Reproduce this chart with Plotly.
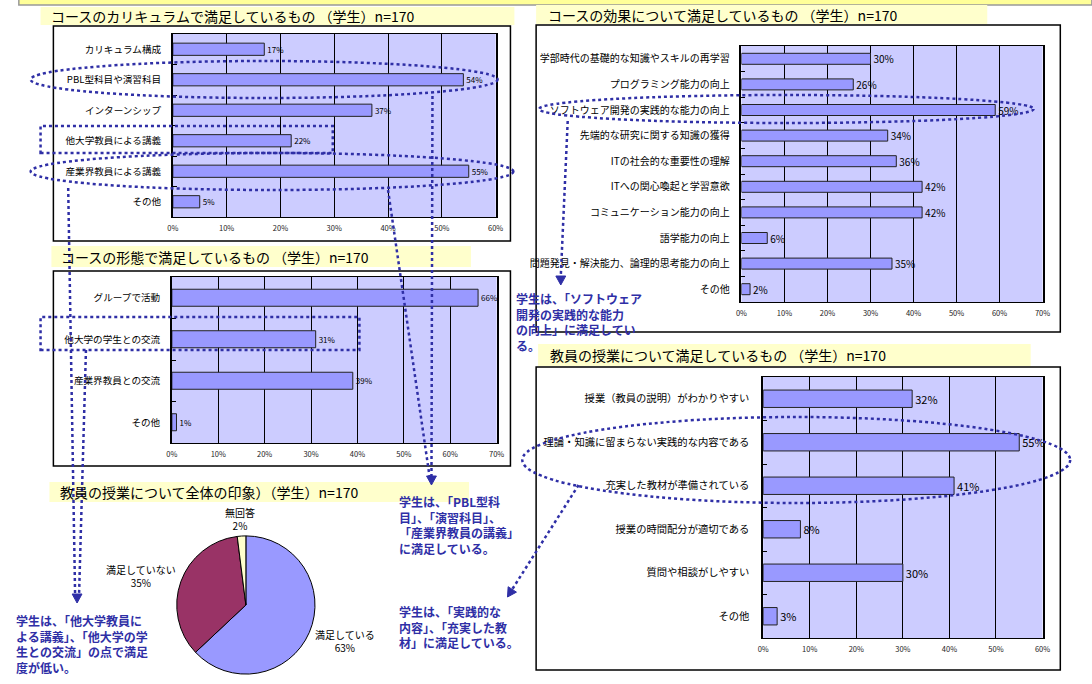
import math
import plotly.graph_objects as go

W, H = 1092, 684


def X(px):
    return px / W


def Y(py):
    return 1 - py / H


# ---------------- data ----------------
cur_title = "コースのカリキュラムで満足しているもの （学生）n=170"
cur_cats = ["カリキュラム構成", "PBL型科目や演習科目", "インターンシップ",
            "他大学教員による講義", "産業界教員による講義", "その他"]
cur_vals = [17, 54, 37, 22, 55, 5]

eff_title = "コースの効果について満足しているもの （学生）n=170"
eff_cats = ["学部時代の基礎的な知識やスキルの再学習", "プログラミング能力の向上",
            "ソフトウェア開発の実践的な能力の向上", "先端的な研究に関する知識の獲得",
            "ITの社会的な重要性の理解", "ITへの関心喚起と学習意欲",
            "コミュニケーション能力の向上", "語学能力の向上",
            "問題発見・解決能力、論理的思考能力の向上", "その他"]
eff_vals = [30, 26, 59, 34, 36, 42, 42, 6, 35, 2]

form_title = "コースの形態で満足しているもの （学生）n=170"
form_cats = ["グループで活動", "他大学の学生との交流", "産業界教員との交流", "その他"]
form_vals = [66, 31, 39, 1]

teach_title = "教員の授業について満足しているもの （学生）n=170"
teach_cats = ["授業（教員の説明）がわかりやすい", "理論・知識に留まらない実践的な内容である",
              "充実した教材が準備されている", "授業の時間配分が適切である",
              "質問や相談がしやすい", "その他"]
teach_vals = [32, 55, 41, 8, 30, 3]

pie_title = "教員の授業について全体の印象）（学生）n=170"
pie_labels = ["満足している", "満足していない", "無回答"]
pie_vals = [63, 35, 2]
pie_colors = ["#9999FF", "#993366", "#FFFFCC"]

note_software = ["学生は、「ソフトウェア", "開発の実践的な能力", "の向上」に満足してい", "る。"]
note_pbl = ["学生は、「PBL型科", "目」、「演習科目」、", "「産業界教員の講義」", "に満足している。"]
note_other = ["学生は、「他大学教員に", "よる講義」、「他大学の学", "生との交流」の点で満足", "度が低い。"]
note_practice = ["学生は、「実践的な", "内容」、「充実した教", "材」に満足している。"]

FONT = "Noto Sans CJK JP"
BLUE = "#2F2FA6"
BAR = "#9999FF"
PLOTBG = "#CCCCFF"

fig = go.Figure()
shapes = []
annotations = []


def add_bar(cats, vals, n, px_x, px_y, xmax, tickfs, valfs, catfs, width, standoff):
    s = "" if n == 1 else str(n)
    fig.add_trace(go.Bar(
        y=cats, x=vals, orientation="h", xaxis="x" + s, yaxis="y" + s,
        marker=dict(color=BAR, line=dict(color="#222222", width=1)),
        text=[f"{v}%" for v in vals], textposition="outside", cliponaxis=False,
        constraintext="none", textfont=dict(size=valfs, color="black", family=FONT),
        width=width, showlegend=False, hoverinfo="skip"))
    fig.layout["xaxis" + s] = dict(
        domain=[X(px_x[0]), X(px_x[1])], range=[0, xmax], dtick=10, ticksuffix="%",
        anchor="y" + s, showgrid=True, gridcolor="black", gridwidth=1,
        tickfont=dict(size=tickfs, color="#222222"), showline=True, linecolor="black",
        linewidth=1, mirror=True, zeroline=False, ticks="", ticklabelstandoff=4,
        fixedrange=True)
    fig.layout["yaxis" + s] = dict(
        domain=[Y(px_y[1]), Y(px_y[0])], autorange="reversed", anchor="x" + s,
        tickfont=dict(size=catfs, color="black"), showline=True, linecolor="black",
        linewidth=1.5, mirror=True, ticks="inside", tickson="boundaries", ticklen=4,
        tickcolor="black", ticklabelstandoff=standoff, showgrid=False, fixedrange=True)


add_bar(cur_cats, cur_vals, 1, (169, 496), (34, 217), 60, 7.5, 8, 9.6, 0.4, 8)
add_bar(eff_cats, eff_vals, 2, (745, 1050), (46, 302), 70, 7.5, 10, 10, 0.43, 8)
add_bar(form_cats, form_vals, 3, (168, 497), (277, 443), 70, 7.5, 8, 9.6, 0.41, 8)
add_bar(teach_cats, teach_vals, 4, (767, 1050), (377, 638), 60, 7.5, 11, 10.3, 0.4, 10)

fig.add_trace(go.Pie(
    labels=pie_labels, values=pie_vals, sort=False, direction="clockwise", rotation=0,
    marker=dict(colors=pie_colors, line=dict(color="black", width=1)),
    textinfo="none", domain=dict(x=[X(173), X(313)], y=[Y(675), Y(535)]),
    showlegend=False, hoverinfo="skip"))


def rect(x0, y0, x1, y1, **kw):
    shapes.append(dict(type="rect", xref="paper", yref="paper",
                       x0=X(x0), x1=X(x1), y0=Y(y1), y1=Y(y0), **kw))


def text(x, y, t, size, color="black", anchor="left"):
    annotations.append(dict(xref="paper", yref="paper", x=X(x), y=Y(y), text=t,
                            showarrow=False, xanchor=anchor, yanchor="middle", align="left",
                            font=dict(size=size, color=color, family=FONT)))


# top banner
rect(13, -5, 1100, 5, fillcolor="#FFFF99", line=dict(color="#999999", width=1.5), layer="below")

# chart frames
for (x0, y0, x1, y1) in [(48, 26, 511, 241), (537, 25, 1068, 332), (48, 271, 511, 466), (537, 367, 1068, 670)]:
    rect(x0, y0, x1, y1, line=dict(color="black", width=1.5), layer="below")

# titles
for (x0, y0, x1, y1, tx, t) in [(35, 7, 515, 25, 44, cur_title), (537, 5, 994, 24, 547, eff_title),
                                 (46, 246, 471, 267, 54, form_title), (44, 482, 469, 502, 53, pie_title),
                                 (539, 344, 1038, 366, 549, teach_title)]:
    rect(x0, y0, x1, y1, fillcolor="#FFFFCC", line=dict(width=0), layer="below")
    text(tx, (y0 + y1) / 2, t, 14)

# pie labels
for (cx, cy, lab, v) in zip([343, 137, 237], [641, 576, 519], pie_labels, pie_vals):
    annotations.append(dict(xref="paper", yref="paper", x=X(cx), y=Y(cy), text=f"{lab}<br>{v}%",
                            showarrow=False, xanchor="center", yanchor="middle",
                            font=dict(size=10, color="black", family=FONT)))

# dotted highlight marks
DOT = dict(color=BLUE, width=2.5, dash="dot")
for (x0, y0, x1, y1) in [(25, 61, 498, 98), (25, 153, 514, 190), (540, 95, 1041, 123), (523, 417, 1078, 503)]:
    shapes.append(dict(type="circle", xref="paper", yref="paper", x0=X(x0), x1=X(x1),
                       y0=Y(y1), y1=Y(y0), line=DOT))
for (x0, y0, x1, y1) in [(35, 126, 331, 153), (35, 317, 358, 350)]:
    rect(x0, y0, x1, y1, line=DOT)

lines = [((432, 96), (431, 476)), ((387, 190), (429, 476)),
         ((63, 188), (70, 595)), ((81, 350), (74, 595)),
         ((569, 121), (562, 276)), ((580, 485), (513, 589))]
for (a, b) in lines:
    shapes.append(dict(type="line", xref="paper", yref="paper", x0=X(a[0]), y0=Y(a[1]),
                       x1=X(b[0]), y1=Y(b[1]), line=DOT))


def arrow(tip, frm, length=9, half=5):
    dx, dy = tip[0] - frm[0], tip[1] - frm[1]
    d = math.hypot(dx, dy)
    ux, uy = dx / d, dy / d
    bx, by = tip[0] - ux * length, tip[1] - uy * length
    px_, py_ = -uy, ux
    pts = [(bx + px_ * half, by + py_ * half), (bx - px_ * half, by - py_ * half), tip]
    path = "M " + " L ".join(f"{X(p[0]):.5f},{Y(p[1]):.5f}" for p in pts) + " Z"
    shapes.append(dict(type="path", xref="paper", yref="paper", path=path,
                       fillcolor=BLUE, line=dict(color=BLUE, width=1)))


arrow((431, 485), (431, 470))
arrow((72, 603), (72, 590))
arrow((562, 285), (562, 270))
arrow((508, 597), (580, 485))

# blue notes (one multi-line annotation per note, top-left anchored)
for lines_, x0, ytop in [(note_software, 516, 289),
                         (note_pbl, 397, 492),
                         (note_other, 9, 611),
                         (note_practice, 397, 602)]:
    annotations.append(dict(xref="paper", yref="paper", x=X(x0), y=Y(ytop),
                            text="<br>".join(f"<b>{t}</b>" for t in lines_),
                            showarrow=False, xanchor="left", yanchor="top", align="left",
                            borderpad=0,
                            font=dict(size=12, color=BLUE, family=FONT)))

fig.update_layout(
    width=W, height=H, margin=dict(l=0, r=0, t=0, b=0),
    paper_bgcolor="white", plot_bgcolor=PLOTBG,
    font=dict(family=FONT, color="black"),
    shapes=shapes, annotations=annotations, showlegend=False,
)

fig.write_html("out.html", config={"displayModeBar": False},
               post_script="document.body.style.margin='0';document.body.style.overflow='hidden';")
